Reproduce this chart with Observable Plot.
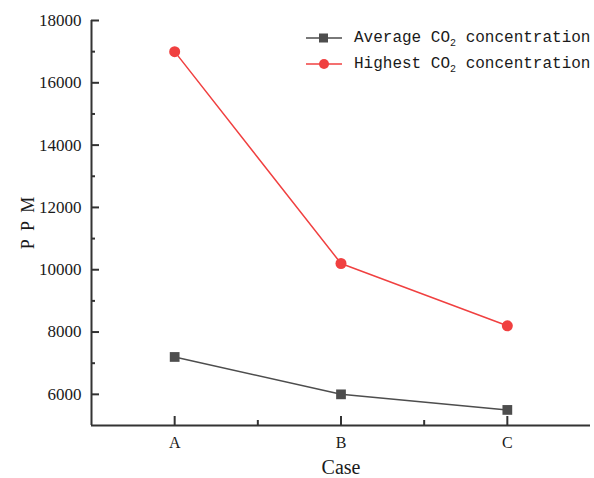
<!DOCTYPE html>
<html>
<head>
<meta charset="utf-8">
<script src="https://cdn.jsdelivr.net/npm/d3@7"></script>
<script src="https://cdn.jsdelivr.net/npm/@observablehq/plot@0.6"></script>
<style>
  body { margin: 0; background: #fff; }
  #wrap { position: relative; width: 594px; height: 478px; }
  #legend { position: absolute; left: 305px; top: 25px; font-family: "Liberation Mono", monospace; font-size: 16px; color: #1a1a1a; }
  .row { display: flex; align-items: center; height: 26px; white-space: nowrap; }
  .row svg { margin-right: 11px; }
  sub { font-size: 10px; vertical-align: -4px; line-height: 0; }
  svg text { font-family: "Liberation Serif", serif; }
</style>
</head>
<body>
<div id="wrap">
  <div id="chart"></div>
  <div id="legend"></div>
</div>
<script>
const cases = ["A", "B", "C"];
const averageCO2 = [7200, 6000, 5500];
const highestCO2 = [17000, 10200, 8200];
const yTicks = [6000, 8000, 10000, 12000, 14000, 16000, 18000];
const yMinor = [7000, 9000, 11000, 13000, 15000, 17000];

const avgColor = "#4d4d4d";
const highColor = "#f04040";
const seriesNames = ["Average CO<sub>2</sub> concentration", "Highest CO<sub>2</sub> concentration"];

const avgData = cases.map((c, i) => ({x: i + 1, y: averageCO2[i]}));
const highData = cases.map((c, i) => ({x: i + 1, y: highestCO2[i]}));
const xMajor = cases.map((c, i) => i + 1);
const xMinor = [1.5, 2.5];

const font = "Liberation Serif, serif";

const plot = Plot.plot({
  width: 594,
  height: 478,
  marginLeft: 91,
  marginRight: 4,
  marginTop: 20,
  marginBottom: 53,
  style: {fontFamily: font, fontSize: "16px", color: "#1a1a1a", background: "transparent"},
  x: {type: "linear", domain: [0.5, 3.5]},
  y: {domain: [5000, 18000]},
  marks: [
    // axis text
    Plot.axisY({ticks: yTicks, tickSize: 0, tickPadding: 10, tickFormat: d => String(d), label: null, fontSize: 17, fontFamily: font, fill: "#1a1a1a", fontVariant: "normal"}),
    Plot.axisY({ticks: [], tickSize: 0, label: "P  P  M", labelAnchor: "center", labelArrow: "none", labelOffset: 70, fontSize: 18, fontFamily: font, fill: "#1a1a1a"}),
    Plot.axisX({ticks: xMajor, tickSize: 0, tickPadding: 11, tickFormat: d => cases[d - 1], label: null, fontSize: 16, fontFamily: font, fill: "#1a1a1a"}),
    Plot.axisX({ticks: [], tickSize: 0, label: "Case", labelAnchor: "center", labelArrow: "none", labelOffset: 48, fontSize: 20, fontFamily: font, fill: "#1a1a1a"}),
    // inward ticks
    Plot.axisY({ticks: yTicks, tickSize: -8, text: null, label: null, strokeWidth: 2, stroke: "#333"}),
    Plot.axisY({ticks: yMinor, tickSize: -4, text: null, label: null, strokeWidth: 2, stroke: "#333"}),
    Plot.axisX({ticks: xMajor, tickSize: -9, text: null, label: null, strokeWidth: 2, stroke: "#333"}),
    Plot.axisX({ticks: xMinor, tickSize: -5, text: null, label: null, strokeWidth: 2, stroke: "#333"}),
    // axis lines
    Plot.ruleX([0.5], {stroke: "#333", strokeWidth: 2}),
    Plot.ruleY([5000], {stroke: "#333", strokeWidth: 2}),
    // series
    Plot.line(avgData, {x: "x", y: "y", stroke: avgColor, strokeWidth: 1.5}),
    Plot.dot(avgData, {x: "x", y: "y", symbol: "square", fill: avgColor, r: 5.5}),
    Plot.line(highData, {x: "x", y: "y", stroke: highColor, strokeWidth: 1.5}),
    Plot.dot(highData, {x: "x", y: "y", symbol: "circle", fill: highColor, r: 5.5})
  ]
});
document.getElementById("chart").appendChild(plot);

const legend = document.getElementById("legend");
const symbols = [
  `<svg width="38" height="12"><line x1="1" y1="6" x2="37" y2="6" stroke="${avgColor}" stroke-width="1.5"/><rect x="14" y="1.5" width="9" height="9" fill="${avgColor}"/></svg>`,
  `<svg width="38" height="12"><line x1="1" y1="6" x2="37" y2="6" stroke="${highColor}" stroke-width="1.5"/><circle cx="19" cy="6" r="5" fill="${highColor}"/></svg>`
];
seriesNames.forEach((name, i) => {
  const row = document.createElement("div");
  row.className = "row";
  row.innerHTML = symbols[i] + `<span>${name}</span>`;
  legend.appendChild(row);
});
</script>
</body>
</html>
